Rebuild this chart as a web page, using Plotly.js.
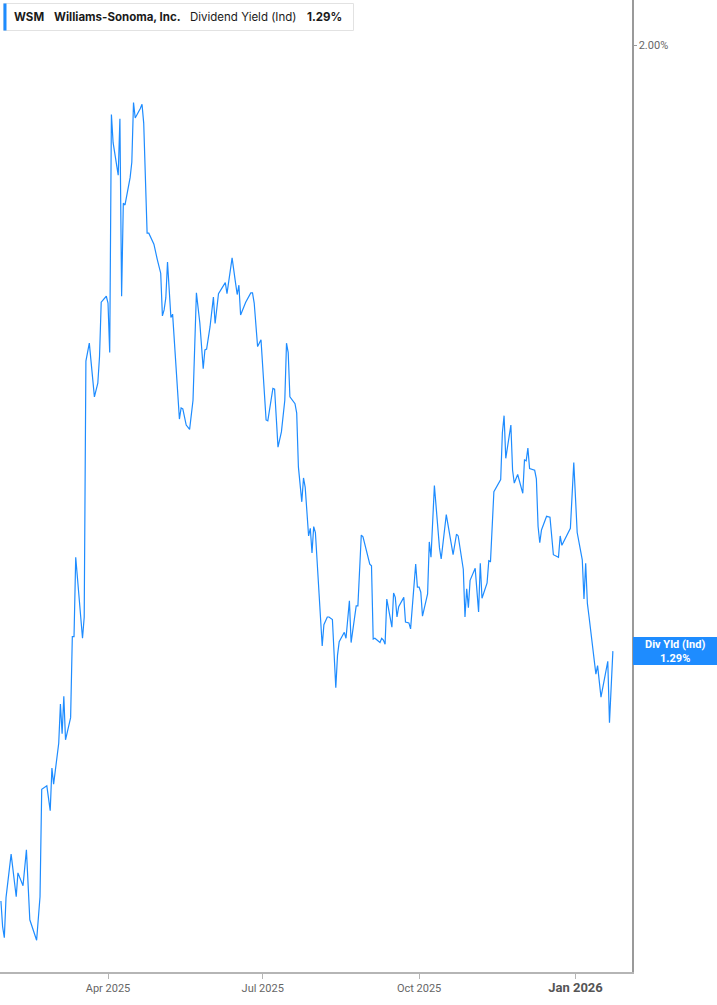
<!DOCTYPE html>
<html>
<head>
<meta charset="utf-8">
<script src="https://cdn.plot.ly/plotly-3.0.1.min.js"></script>
<style>
  html, body { margin: 0; padding: 0; background: #ffffff; }
  #chart { width: 717px; height: 1005px; }
</style>
</head>
<body>
<div id="chart"></div>
<script>
// ---- data ----
const dates = [
  "2025-01-28","2025-01-29","2025-01-30","2025-01-31","2025-02-03","2025-02-05","2025-02-06","2025-02-07",
  "2025-02-10","2025-02-12","2025-02-14","2025-02-18","2025-02-20","2025-02-21","2025-02-24","2025-02-26",
  "2025-02-27","2025-02-28","2025-03-03","2025-03-04","2025-03-05","2025-03-06","2025-03-07","2025-03-10",
  "2025-03-11","2025-03-12","2025-03-13","2025-03-17","2025-03-18","2025-03-19","2025-03-21","2025-03-24",
  "2025-03-26","2025-03-27","2025-03-28","2025-03-31","2025-04-01","2025-04-02","2025-04-03","2025-04-04",
  "2025-04-07","2025-04-08","2025-04-09","2025-04-10","2025-04-11","2025-04-14","2025-04-15","2025-04-16",
  "2025-04-17","2025-04-20","2025-04-21","2025-04-22","2025-04-24","2025-04-25","2025-04-28","2025-04-30",
  "2025-05-02","2025-05-03","2025-05-04","2025-05-05","2025-05-06","2025-05-08","2025-05-09","2025-05-13",
  "2025-05-14","2025-05-15","2025-05-17","2025-05-19","2025-05-21","2025-05-23","2025-05-25","2025-05-27",
  "2025-05-28","2025-05-29","2025-05-31","2025-06-02","2025-06-03","2025-06-05","2025-06-09","2025-06-10",
  "2025-06-12","2025-06-13","2025-06-15","2025-06-16","2025-06-17","2025-06-18","2025-06-21","2025-06-24",
  "2025-06-25","2025-06-26","2025-06-28","2025-06-30","2025-07-03","2025-07-04","2025-07-07","2025-07-08",
  "2025-07-10","2025-07-12","2025-07-14","2025-07-15","2025-07-16","2025-07-17","2025-07-20","2025-07-21",
  "2025-07-22","2025-07-24","2025-07-25","2025-07-26","2025-07-28","2025-07-29","2025-07-30","2025-07-31",
  "2025-08-01","2025-08-05","2025-08-06","2025-08-08","2025-08-09","2025-08-11","2025-08-13","2025-08-14",
  "2025-08-15","2025-08-18","2025-08-19","2025-08-21","2025-08-22","2025-08-25","2025-08-26","2025-08-28",
  "2025-08-29","2025-09-02","2025-09-03","2025-09-04","2025-09-05","2025-09-08","2025-09-09","2025-09-10",
  "2025-09-11","2025-09-12","2025-09-15","2025-09-16","2025-09-17","2025-09-18","2025-09-19","2025-09-22",
  "2025-09-23","2025-09-25","2025-09-26","2025-09-29","2025-09-30","2025-10-01","2025-10-02","2025-10-03",
  "2025-10-06","2025-10-07","2025-10-08","2025-10-10","2025-10-13","2025-10-14","2025-10-17","2025-10-21",
  "2025-10-23","2025-10-24","2025-10-27","2025-10-28","2025-10-29","2025-10-30","2025-10-31","2025-11-03",
  "2025-11-05","2025-11-06","2025-11-07","2025-11-10","2025-11-11","2025-11-12","2025-11-14","2025-11-17",
  "2025-11-18","2025-11-19","2025-11-20","2025-11-21","2025-11-24","2025-11-25","2025-11-26","2025-11-28",
  "2025-12-01","2025-12-02","2025-12-03","2025-12-04","2025-12-05","2025-12-08","2025-12-09","2025-12-10",
  "2025-12-11","2025-12-12","2025-12-15","2025-12-17","2025-12-19","2025-12-22","2025-12-23","2025-12-24",
  "2025-12-29","2025-12-31","2026-01-02","2026-01-05","2026-01-06","2026-01-07","2026-01-08","2026-01-09",
  "2026-01-13","2026-01-14","2026-01-16","2026-01-20","2026-01-21","2026-01-23"
];
const divYield = [
  0.997,0.967,0.954,1.001,1.052,1.022,1.002,1.030,
  1.015,1.057,0.975,0.951,1.002,1.128,1.132,1.103,
  1.153,1.134,1.182,1.228,1.193,1.237,1.186,1.212,
  1.307,1.307,1.400,1.305,1.330,1.630,1.651,1.588,
  1.604,1.635,1.699,1.706,1.698,1.640,1.919,1.886,
  1.848,1.914,1.706,1.815,1.813,1.845,1.863,1.933,
  1.915,1.926,1.931,1.909,1.780,1.780,1.767,1.749,
  1.733,1.683,1.690,1.704,1.746,1.681,1.685,1.562,
  1.575,1.574,1.555,1.550,1.584,1.710,1.675,1.621,
  1.643,1.644,1.670,1.705,1.674,1.709,1.722,1.709,
  1.734,1.751,1.722,1.708,1.719,1.684,1.699,1.710,
  1.710,1.698,1.647,1.655,1.561,1.560,1.598,1.597,
  1.529,1.547,1.584,1.651,1.640,1.588,1.580,1.569,
  1.506,1.465,1.493,1.482,1.425,1.434,1.405,1.436,
  1.429,1.296,1.321,1.330,1.330,1.327,1.247,1.285,
  1.301,1.312,1.305,1.349,1.300,1.343,1.343,1.426,
  1.424,1.392,1.390,1.304,1.305,1.300,1.305,1.303,
  1.298,1.351,1.318,1.358,1.353,1.330,1.342,1.353,
  1.324,1.323,1.316,1.392,1.365,1.365,1.359,1.331,
  1.357,1.418,1.400,1.484,1.411,1.398,1.450,1.403,
  1.427,1.425,1.386,1.330,1.363,1.341,1.373,1.387,
  1.336,1.393,1.352,1.370,1.396,1.395,1.477,1.487,
  1.491,1.546,1.566,1.516,1.555,1.502,1.487,1.497,
  1.475,1.514,1.513,1.528,1.504,1.502,1.492,1.436,
  1.417,1.432,1.448,1.447,1.403,1.400,1.425,1.414,
  1.434,1.511,1.429,1.397,1.351,1.393,1.346,1.330,
  1.263,1.273,1.236,1.278,1.206,1.290
];
const xTickVals = ["2025-04-01","2025-07-01","2025-10-01","2026-01-01"];
const xTickText = ["Apr 2025","Jul 2025","Oct 2025","<b><span style=\"font-size:13px;fill:#555\">Jan 2026</span></b>"];
const yTickVals = [2.0];
const yTickText = ["2.00%"];
const ticker = "WSM";
const company = "Williams-Sonoma, Inc.";
const metric = "Dividend Yield (Ind)";
const lastLabel = "1.29%";
const sideLabel = "Div Yld (Ind)";

// ---- layout helpers (pixel -> paper) ----
const W = 717, H = 1005, ML = 0, MR = 85, MT = 0, MB = 33;
const PW = W - ML - MR, PH = H - MT - MB;
const px = x => (x - ML) / PW;
const py = y => 1 - (y - MT) / PH;

const blue = "#1e8cff";
const lastVal = divYield[divYield.length - 1];
const hdrFont = { family: "Inter, Roboto, sans-serif", size: 11.5, color: "#1a1a1a" };

const trace = {
  x: dates, y: divYield, type: "scatter", mode: "lines",
  line: { color: blue, width: 1.2 }, hoverinfo: "skip"
};

const layout = {
  width: W, height: H,
  margin: { l: ML, r: MR, t: MT, b: MB, pad: 0 },
  paper_bgcolor: "#ffffff", plot_bgcolor: "#ffffff",
  showlegend: false,
  font: { family: "Roboto, 'Noto Sans', sans-serif", color: "#666" },
  xaxis: {
    type: "date",
    range: ["2025-01-27 11:00", "2026-02-03 06:00"],
    tickmode: "array", tickvals: xTickVals, ticktext: xTickText,
    showgrid: false, zeroline: false,
    showline: true, linecolor: "#b5b5b5", linewidth: 2,
    ticks: "outside", ticklen: 5, tickcolor: "#b5b5b5", tickwidth: 1,
    tickfont: { family: "Roboto, sans-serif", size: 11, color: "#666" },
    fixedrange: true
  },
  yaxis: {
    side: "right",
    range: [0.9138, 2.0533],
    tickmode: "array", tickvals: yTickVals, ticktext: yTickText,
    showgrid: false, zeroline: false,
    showline: true, linecolor: "#9a9a9a", linewidth: 1.5,
    ticks: "outside", ticklen: 3, tickcolor: "#9a9a9a", tickwidth: 1,
    tickfont: { family: "Roboto, sans-serif", size: 11, color: "#666" },
    fixedrange: true
  },
  shapes: [
    { type: "rect", xref: "paper", yref: "paper", x0: px(3.5), x1: px(353.5), y0: py(3.5), y1: py(30.5),
      line: { color: "#e2e2e2", width: 1 }, fillcolor: "#ffffff", layer: "above" },
    { type: "rect", xref: "paper", yref: "paper", x0: px(3.5), x1: px(6.5), y0: py(3.5), y1: py(30.5),
      line: { width: 0 }, fillcolor: blue, layer: "above" },
    { type: "rect", xref: "paper", yref: "paper", x0: px(633), x1: px(717), y0: py(637), y1: py(665),
      line: { width: 0 }, fillcolor: blue, layer: "above" }
  ],
  annotations: [
    { xref: "paper", yref: "paper", x: px(12), y: py(17), xanchor: "left", yanchor: "middle", showarrow: false,
      text: "<b>" + ticker + "</b>", font: hdrFont },
    { xref: "paper", yref: "paper", x: px(52), y: py(17), xanchor: "left", yanchor: "middle", showarrow: false,
      text: "<b>" + company + "</b>", font: hdrFont },
    { xref: "paper", yref: "paper", x: px(188), y: py(17), xanchor: "left", yanchor: "middle", showarrow: false,
      text: metric, font: hdrFont },
    { xref: "paper", yref: "paper", x: px(305), y: py(17), xanchor: "left", yanchor: "middle", showarrow: false,
      text: "<b>" + lastLabel + "</b>", font: hdrFont },
    { xref: "paper", yref: "y", x: px(675), y: lastVal, xanchor: "center", yanchor: "middle", showarrow: false,
      text: "<b>" + sideLabel + "</b><br><b>" + lastVal.toFixed(2) + "%</b>",
      font: { family: "Roboto, sans-serif", size: 11, color: "#ffffff" } }
  ]
};

Plotly.newPlot("chart", [trace], layout, { displayModeBar: false, staticPlot: true });
</script>
</body>
</html>
